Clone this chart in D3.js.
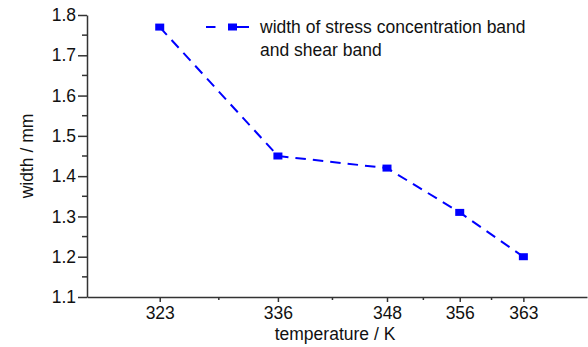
<!DOCTYPE html>
<html>
<head>
<meta charset="utf-8">
<script src="https://cdn.jsdelivr.net/npm/d3@7"></script>
<style>
  body { margin: 0; background: #fff; }
  text { font-family: "Liberation Sans", Arial, sans-serif; fill: #111; }
</style>
</head>
<body>
<div id="chart"></div>
<script>
// Data
// ===========================
var temperatures = [323, 336, 348, 356, 363];
var widths = [1.77, 1.45, 1.42, 1.31, 1.20];
var yTickValues = [1.1, 1.2, 1.3, 1.4, 1.5, 1.6, 1.7, 1.8];
var seriesName = ["width of stress concentration band", "and shear band"];

// Setup
// ===========================
var width = 588;
var height = 347;
// plot edges (note: "top" is taken by window.top, so use plot* names)
var plotLeft = 87, plotRight = 587, plotTop = 15, plotBottom = 297;
var blue = "#0000ff";

var svg = d3.select("#chart")
  .append("svg")
  .attr("width", width)
  .attr("height", height);

svg.append("rect")
  .attr("width", width)
  .attr("height", height)
  .attr("fill", "#fff");

// scales
var xScale = d3.scaleLinear()
  .domain([315, 370])
  .range([plotLeft, plotRight]);

var yScale = d3.scaleLinear()
  .domain([1.1, 1.8])
  .range([plotBottom, plotTop]);

// minor ticks sit halfway between the labelled ones
var xMinor = d3.pairs(temperatures).map(p => (p[0] + p[1]) / 2);
var yMinor = d3.pairs(yTickValues).map(p => (p[0] + p[1]) / 2);

// Axes
// ===========================
var xAxis = d3.axisBottom(xScale)
  .tickValues(temperatures)
  .tickFormat(d3.format("d"))
  .tickSize(5)
  .tickPadding(5)
  .tickSizeOuter(0);

var yAxis = d3.axisLeft(yScale)
  .tickValues(yTickValues)
  .tickFormat(d3.format(".1f"))
  .tickSize(9)
  .tickPadding(2)
  .tickSizeOuter(0);

var xAxisG = svg.append("g")
  .attr("transform", `translate(0, ${plotBottom})`)
  .call(xAxis);

xAxisG.selectAll(".minor")
  .data(xMinor)
  .enter()
  .append("line")
  .attr("class", "minor")
  .attr("x1", d => xScale(d))
  .attr("x2", d => xScale(d))
  .attr("y1", 0)
  .attr("y2", 3);

var yAxisG = svg.append("g")
  .attr("transform", `translate(${plotLeft}, 0)`)
  .call(yAxis);

yAxisG.selectAll(".minor")
  .data(yMinor)
  .enter()
  .append("line")
  .attr("class", "minor")
  .attr("x1", 0)
  .attr("x2", -5)
  .attr("y1", d => yScale(d))
  .attr("y2", d => yScale(d));

svg.selectAll(".domain, .tick line, .minor")
  .attr("stroke", "#333")
  .attr("stroke-width", 1.5);

svg.selectAll(".tick text")
  .attr("font-size", "17.5px")
  .attr("fill", "#111");

// Line + markers
// ===========================
var points = temperatures.map((t, i) => [t, widths[i]]);

var line = d3.line()
  .x(d => xScale(d[0]))
  .y(d => yScale(d[1]));

svg.append("path")
  .datum(points)
  .attr("d", line)
  .attr("fill", "none")
  .attr("stroke", blue)
  .attr("stroke-width", 2)
  .attr("stroke-dasharray", "10.5,7");

svg.selectAll(".marker")
  .data(points)
  .enter()
  .append("rect")
  .attr("class", "marker")
  .attr("x", d => xScale(d[0]) - 4.5)
  .attr("y", d => yScale(d[1]) - 3.5)
  .attr("width", 9)
  .attr("height", 7)
  .attr("fill", blue);

// Legend
// ===========================
var legend = svg.append("g")
  .attr("transform", "translate(206, 27)");

legend.append("line")
  .attr("x1", 0).attr("x2", 9.5)
  .attr("stroke", blue).attr("stroke-width", 2);

legend.append("line")
  .attr("x1", 31).attr("x2", 43)
  .attr("stroke", blue).attr("stroke-width", 2);

legend.append("rect")
  .attr("x", 22).attr("y", -3.5)
  .attr("width", 9).attr("height", 7)
  .attr("fill", blue);

legend.selectAll("text")
  .data(seriesName)
  .enter()
  .append("text")
  .attr("x", 54)
  .attr("y", (d, i) => 6 + i * 23)
  .attr("font-size", "17.5px")
  .text(d => d);

// Axis titles
// ===========================
svg.append("text")
  .attr("transform", `translate(${(plotLeft + plotRight) / 2 - 2}, 340)`)
  .attr("text-anchor", "middle")
  .attr("font-size", "17.5px")
  .text("temperature / K");

svg.append("text")
  .attr("transform", "translate(33, 156) rotate(-90)")
  .attr("text-anchor", "middle")
  .attr("font-size", "17.5px")
  .text("width / mm");
</script>
</body>
</html>
